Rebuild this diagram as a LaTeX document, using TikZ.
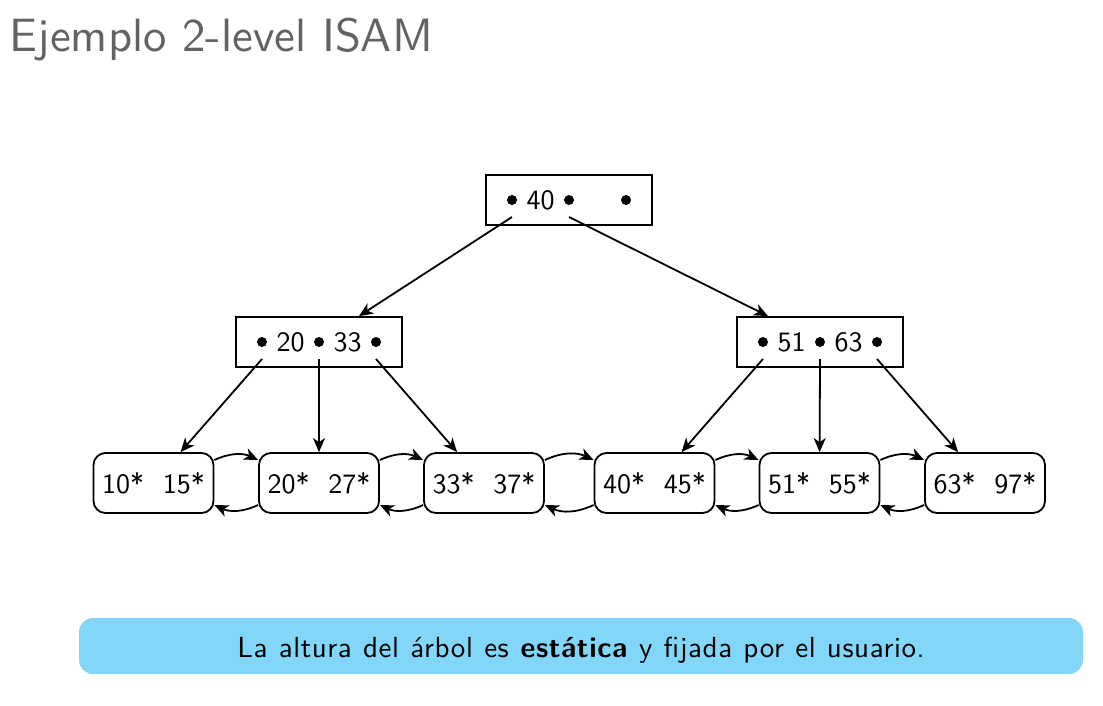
\documentclass[tikz,border=0pt]{standalone}
\usepackage{fontspec}
\setsansfont{lmsans10-regular.otf}[BoldFont=lmsans10-bold.otf]
\newfontfamily\notefont{lmsans10-regular.otf}[BoldFont=lmsans10-bold.otf,LetterSpace=2.0,WordSpace=1.1]
\usetikzlibrary{arrows.meta}
\definecolor{boxblue}{RGB}{130,215,248}
\definecolor{titlegray}{RGB}{98,98,98}
\begin{document}
\begin{tikzpicture}[x=1pt,y=-1pt,line width=1.8pt,
	font=\sffamily\fontsize{28}{34}\selectfont,
	>={Stealth[length=14pt,width=12pt,inset=4pt]},
	inner/.style={draw,rectangle,minimum width=166pt,minimum height=50pt},
	leaf/.style={draw,rectangle,rounded corners=12pt,line join=round,minimum width=120pt,minimum height=60pt}]
	\useasboundingbox (0,0) rectangle (1103,705);
	\node[anchor=base west,text=titlegray,inner sep=0pt,font=\sffamily\fontsize{46.7}{56}\selectfont] (title) at (9,51) {Ejemplo 2-level ISAM};
	% root
	\node[inner] (R) at (569,200) {};
	\coordinate (R1) at (512,200); \coordinate (R2) at (569,200); \coordinate (R3) at (626,200);
	\node (k40) at (540.5,200) {40};
	\foreach \p in {R1,R2,R3} \fill (\p) circle [radius=5pt];
	% second level
	\node[inner] (M) at (319,342) {};
	\coordinate (M1) at (262,342); \coordinate (M2) at (319,342); \coordinate (M3) at (376,342);
	\node (k20) at (290.5,342) {20}; \node (k33) at (347.5,342) {33};
	\node[inner] (N) at (820,342) {};
	\coordinate (N1) at (763,342); \coordinate (N2) at (820,342); \coordinate (N3) at (877,342);
	\node (k51) at (791.5,342) {51}; \node (k63) at (848.5,342) {63};
	\foreach \p in {M1,M2,M3,N1,N2,N3} \fill (\p) circle [radius=5pt];
	% leaves
	\node[leaf] (L1) at (153.5,483) {10*\ \ 15*};
	\node[leaf] (L2) at (319,483) {20*\ \ 27*};
	\node[leaf] (L3) at (484,483) {33*\ \ 37*};
	\node[leaf] (L4) at (654.5,483) {40*\ \ 45*};
	\node[leaf] (L5) at (819.5,483) {51*\ \ 55*};
	\node[leaf] (L6) at (985,483) {63*\ \ 97*};
	% pointers
	\draw[->] ([yshift=-17pt]R1) -- (M);
	\draw[->] ([yshift=-17pt]R2) -- (N);
	\draw[->] ([yshift=-17pt]M1) -- (L1);
	\draw[->] ([yshift=-17pt]M2) -- (L2);
	\draw[->] ([yshift=-17pt]M3) -- (L3);
	\draw[->] ([yshift=-17pt]N1) -- (L4);
	\draw[->] ([yshift=-17pt]N2) -- (L5);
	\draw[->] ([yshift=-17pt]N3) -- (L6);
	% sibling links
	\foreach \a/\b in {L1/L2,L2/L3,L3/L4,L4/L5,L5/L6} {
		\draw[->] ([yshift=23pt]\a.east) to[bend left=25] ([yshift=23pt]\b.west);
		\draw[->] ([yshift=-22pt]\b.west) to[bend left=25] ([yshift=-22pt]\a.east);
	}
	\node[fill=boxblue,rounded corners=14pt,minimum width=1004pt,minimum height=56pt,text height=22pt,text depth=0pt,font=\notefont\fontsize{29}{34}\selectfont] (note) at (581,646) {La altura del árbol es \textbf{estática} y fijada por el usuario.};
\end{tikzpicture}
\end{document}
